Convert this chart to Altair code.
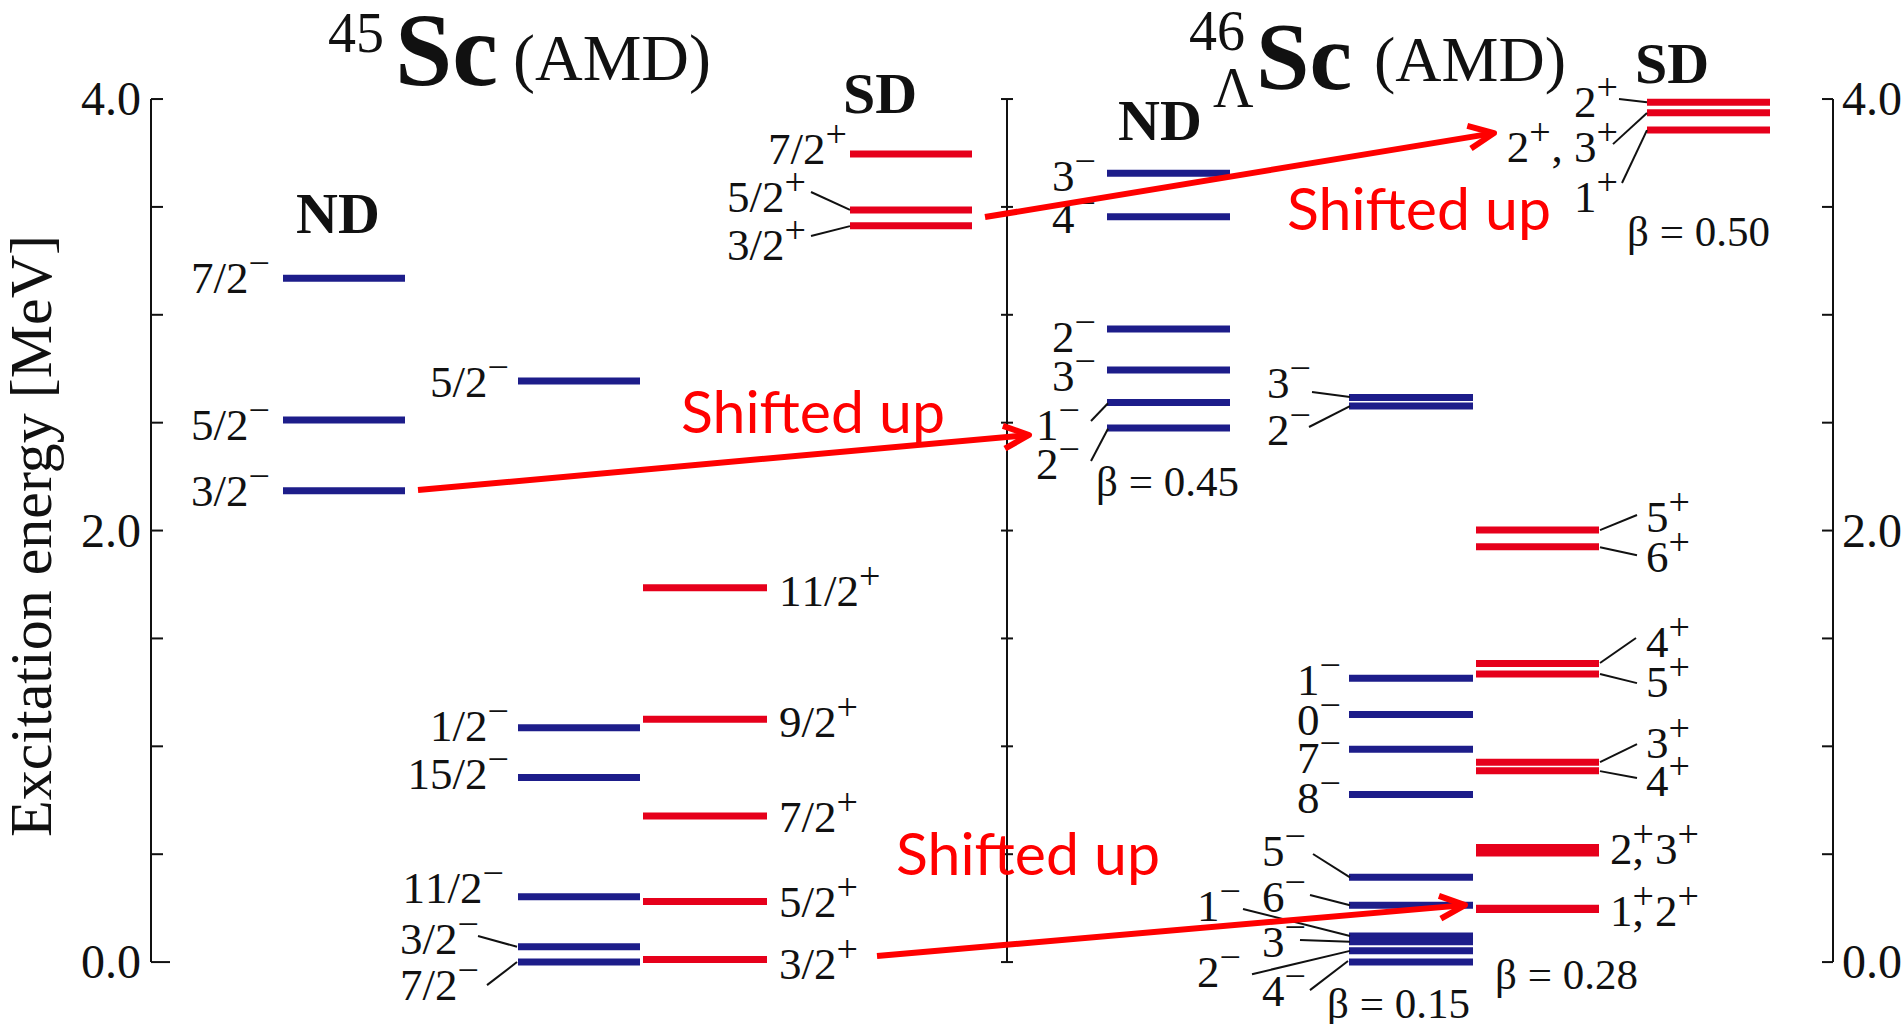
import math
import altair as alt
import pandas as pd

W, H = 1903, 1024
E_MIN, E_MAX = -0.287, 4.459
PX_PER_MEV = H / (E_MAX - E_MIN)

BLUE = "#1d1d8a"
RED_LEVEL = "#e6001b"
RED = "#ff0000"
INK = "#111111"
SERIF = "Liberation Serif"
SANS = "Lato"
LABEL_SIZE = 45
SUP_SIZE = 38

# ---------------- level energies (MeV) per column ----------------
lv_45_nd1 = [3.169, 2.512, 2.185]
lv_45_nd2 = [2.693, 1.086, 0.856, 0.303, 0.071, 0.000]
lv_45_sd_lo = [1.735, 1.126, 0.677, 0.281, 0.012]
lv_45_sd_hi = [3.745, 3.486, 3.413]
lv_46_nd_a = [3.656, 3.454, 2.934, 2.744, 2.594, 2.475]
lv_46_nd_b = [2.617, 2.577, 1.315, 1.148, 0.986, 0.777, 0.393, 0.263, 0.121, 0.094, 0.052, 0.000]
lv_46_sd_lo = [2.002, 1.925, 1.384, 1.335, 0.926, 0.887, 0.531, 0.505, 0.250, 0.244]
lv_46_sd_hi = [3.985, 3.937, 3.856]

# column extents in diagram units
col_levels = [lv_45_nd1, lv_45_nd2, lv_45_sd_lo, lv_45_sd_hi,
              lv_46_nd_a, lv_46_nd_b, lv_46_sd_lo, lv_46_sd_hi]
col_left = [283, 518, 643, 850, 1107, 1349, 1476, 1647]
col_right = [405, 640, 767, 972, 1230, 1473, 1599, 1770]
col_color = [BLUE, BLUE, RED_LEVEL, RED_LEVEL, BLUE, BLUE, RED_LEVEL, RED_LEVEL]

# ---------------- spin-parity labels ----------------
# (anchor x, alignment, labels, label centre energies); ^ = superscript, _ = zero-advance
lab_anchor = [271, 510, 505, 480, 779, 848, 807, 1097, 1081, 1312, 1342, 1307, 1242, 1646, 1610, 1619]
lab_align = ["right", "right", "right", "right", "left", "right", "right", "right", "right",
             "right", "right", "right", "right", "left", "left", "right"]
lab_text = [
    ["7/2^−", "5/2^−", "3/2^−"],
    ["5/2^−", "1/2^−", "15/2^−"],
    ["11/2^−"],
    ["3/2^−", "7/2^−"],
    ["11/2^+", "9/2^+", "7/2^+", "5/2^+", "3/2^+"],
    ["7/2^+"],
    ["5/2^+", "3/2^+"],
    ["3^−", "4^−", "2^−", "3^−"],
    ["1^−", "2^−"],
    ["3^−", "2^−"],
    ["1^−", "0^−", "7^−", "8^−"],
    ["5^−", "6^−", "3^−", "4^−"],
    ["1^−", "2^−"],
    ["5^+", "6^+", "4^+", "5^+", "3^+", "4^+"],
    ["2_,^+3^+", "1_,^+2^+"],
    ["2^+", "2^+, 3^+", "1^+"],
]
lab_E = [
    [3.170, 2.490, 2.183],
    [2.688, 1.094, 0.871],
    [0.343],
    [0.107, -0.107],
    [1.720, 1.112, 0.672, 0.278, -0.009],
    [3.768],
    [3.546, 3.323],
    [3.643, 3.450, 2.897, 2.716],
    [2.489, 2.308],
    [2.684, 2.466],
    [1.307, 1.122, 0.946, 0.760],
    [0.514, 0.301, 0.093, -0.134],
    [0.260, -0.046],
    [2.063, 1.877, 1.483, 1.298, 1.015, 0.839],
    [0.524, 0.236],
    [3.986, 3.777, 3.546],
]

beta_text = ["β = 0.45", "β = 0.50", "β = 0.15", "β = 0.28"]
beta_x = [1096, 1627, 1327, 1495]
beta_E = [2.225, 3.384, -0.195, -0.060]

# leader lines (x1, E1, x2, E2)
lead_x1 = [478, 487, 811, 811, 1091, 1091, 1312, 1309, 1619, 1613, 1622,
           1600, 1600, 1600, 1600, 1600, 1600, 1313, 1310, 1243, 1300, 1252, 1310]
lead_E1 = [0.1205, -0.107, 3.569, 3.365, 2.508, 2.322, 2.642, 2.480, 4.000, 3.791, 3.611,
           2.002, 1.923, 1.386, 1.335, 0.927, 0.885, 0.501, 0.311, 0.246, 0.102, -0.056, -0.130]
lead_x2 = [517, 517, 850, 850, 1108, 1108, 1350, 1350, 1647, 1647, 1647,
           1637, 1637, 1636, 1637, 1637, 1637, 1350, 1350, 1350, 1350, 1350, 1348]
lead_E2 = [0.071, 0.000, 3.486, 3.411, 2.590, 2.472, 2.619, 2.577, 3.985, 3.935, 3.856,
           2.072, 1.886, 1.502, 1.293, 1.010, 0.853, 0.393, 0.263, 0.121, 0.094, 0.052, 0.005]

# "Shifted up" arrows
arr_x1 = [418, 985, 877]
arr_E1 = [2.188, 3.453, 0.028]
arr_x2 = [1029, 1494, 1465]
arr_E2 = [2.443, 3.842, 0.264]
shift_x = [681, 1287, 896]
shift_E = [2.452, 3.393, 0.403]

# axes
axis_x = [151, 1007, 1833]
tick_E = [0.0, 0.5, 1.0, 1.5, 2.0, 2.5, 3.0, 3.5, 4.0]
tick_labels = ["0.0", "2.0", "4.0"]
tick_label_E = [0.0, 2.0, 4.0]

# titles
ttl_reg_text = ["45", "(AMD)", "46", "Λ", "(AMD)"]
ttl_reg_x = [328, 513, 1189, 1213, 1374]
ttl_reg_E = [4.218, 4.088, 4.227, 3.963, 4.083]
ttl_reg_size = [56, 66, 56, 56, 64]
ttl_sc_x = [395, 1256]
ttl_sc_E = [4.065, 4.046]
ttl_sc_size = [103, 96]
band_text = ["ND", "SD", "ND", "SD"]
band_x = [338, 880, 1160, 1672]
band_E = [3.379, 3.935, 3.810, 4.074]
band_size = [58, 58, 58, 58]

# ---------------- build tables ----------------
TNR = {c: 0.5 for c in "0123456789"}
TNR.update({"/": 0.278, ",": 0.25, " ": 0.25, ".": 0.25, "+": 0.564, "−": 0.564})


def layout(label, anchor, align):
    pieces = []
    i = 0
    while i < len(label):
        ch = label[i]
        if ch == "^":
            c = label[i + 1]
            pieces.append((c, "sup", TNR[c] * SUP_SIZE + 1))
            i += 2
        elif ch == "_":
            pieces.append((label[i + 1], "base", 0.0))
            i += 2
        else:
            pieces.append((ch, "base", TNR[ch] * LABEL_SIZE))
            i += 1
    total = sum(p[2] for p in pieces)
    x = anchor - total if align == "right" else anchor
    out = []
    for t, k, adv in pieces:
        out.append((t, k, x))
        x += adv
    return out


base_rows, sup_rows = [], []
for anc, al, texts, es in zip(lab_anchor, lab_align, lab_text, lab_E):
    for t, e in zip(texts, es):
        for piece, kind, x in layout(t, anc, al):
            (sup_rows if kind == "sup" else base_rows).append({"t": piece, "x": x, "E": e})
beta_rows = [{"t": t, "x": x, "E": e} for t, x, e in zip(beta_text, beta_x, beta_E)]

lev_rows = []
for lv, x1, x2, c in zip(col_levels, col_left, col_right, col_color):
    for e in lv:
        lev_rows.append({"x": x1, "x2": x2, "E": e, "c": c})

lead_df = pd.DataFrame({"x": lead_x1, "E": lead_E1, "x2": lead_x2, "E2": lead_E2})

arr_df = pd.DataFrame({"x": arr_x1, "E": arr_E1, "x2": arr_x2, "E2": arr_E2})
ang = []
for x1, e1, x2, e2 in zip(arr_x1, arr_E1, arr_x2, arr_E2):
    a = math.degrees(math.atan2(-(e2 - e1) * PX_PER_MEV, x2 - x1))
    ang.append(a % 360)
head_df = pd.DataFrame({"x": arr_x2, "E": arr_E2, "ang": ang})

axis_rows = [{"x": ax, "E": 0.0, "E2": 4.0} for ax in axis_x]
tick_rows = []
for e in tick_E:
    tick_rows.append({"x": axis_x[0], "x2": axis_x[0] + (19 if e == 0 else 12), "E": e})
    tick_rows.append({"x": axis_x[1] - 6, "x2": axis_x[1] + 6, "E": e})
    tick_rows.append({"x": axis_x[2] - 11, "x2": axis_x[2], "E": e})

xs = alt.Scale(domain=[0, W], nice=False, zero=False)
ys = alt.Scale(domain=[E_MIN, E_MAX], nice=False, zero=False)
X = lambda f="x": alt.X(f"{f}:Q", scale=xs, axis=None)
Y = lambda f="E": alt.Y(f"{f}:Q", scale=ys, axis=None)

levels = alt.Chart(pd.DataFrame(lev_rows)).mark_rule(strokeWidth=7, strokeCap="butt").encode(
    x=X(), x2="x2:Q", y=Y(), color=alt.Color("c:N", scale=None))

leaders = alt.Chart(lead_df).mark_rule(strokeWidth=2, color=INK).encode(
    x=X(), x2="x2:Q", y=Y(), y2="E2:Q")

axes = alt.Chart(pd.DataFrame(axis_rows)).mark_rule(strokeWidth=2, color=INK).encode(
    x=X(), y=Y(), y2="E2:Q")
ticks = alt.Chart(pd.DataFrame(tick_rows)).mark_rule(strokeWidth=2, color=INK).encode(
    x=X(), x2="x2:Q", y=Y())

left_lab = alt.Chart(pd.DataFrame({"t": tick_labels, "E": tick_label_E, "x": [141] * 3})).mark_text(
    font=SERIF, fontSize=48, align="right", baseline="alphabetic", dy=16, color=INK).encode(
    x=X(), y=Y(), text="t:N")
right_lab = alt.Chart(pd.DataFrame({"t": tick_labels, "E": tick_label_E, "x": [1842] * 3})).mark_text(
    font=SERIF, fontSize=48, align="left", baseline="alphabetic", dy=16, color=INK).encode(
    x=X(), y=Y(), text="t:N")

ytitle = alt.Chart(pd.DataFrame({"t": ["Excitation energy [MeV]"], "x": [33], "E": [1.975]})).mark_text(
    font=SERIF, fontSize=60, align="center", baseline="middle", angle=270, color=INK).encode(
    x=X(), y=Y(), text="t:N")

base_txt = alt.Chart(pd.DataFrame(base_rows)).mark_text(
    font=SERIF, fontSize=LABEL_SIZE, align="left", baseline="alphabetic", dy=15, color=INK).encode(
    x=X(), y=Y(), text="t:N")
sup_txt = alt.Chart(pd.DataFrame(sup_rows)).mark_text(
    font=SERIF, fontSize=SUP_SIZE, align="left", baseline="alphabetic", dy=-2, color=INK).encode(
    x=X(), y=Y(), text="t:N")
beta_txt = alt.Chart(pd.DataFrame(beta_rows)).mark_text(
    font=SERIF, fontSize=43, align="left", baseline="alphabetic", dy=14, color=INK).encode(
    x=X(), y=Y(), text="t:N")

arrows = alt.Chart(arr_df).mark_rule(strokeWidth=6, color=RED).encode(
    x=X(), x2="x2:Q", y=Y(), y2="E2:Q")
heads = alt.Chart(head_df).mark_point(
    shape="M-2.1,-0.95L0,0L-2.1,0.95", size=576, filled=False, strokeWidth=6,
    color=RED, opacity=1, strokeJoin="round").encode(
    x=X(), y=Y(), angle=alt.Angle("ang:Q", scale=None))
shifted = alt.Chart(pd.DataFrame({"t": ["Shifted up"] * 3, "x": shift_x, "E": shift_E})).mark_text(
    font=SANS, fontSize=59, align="left", baseline="alphabetic", color=RED).encode(
    x=X(), y=Y(), text="t:N")

ttl_reg = alt.Chart(pd.DataFrame({"t": ttl_reg_text, "x": ttl_reg_x, "E": ttl_reg_E, "s": ttl_reg_size})).mark_text(
    font=SERIF, align="left", baseline="alphabetic", color=INK).encode(
    x=X(), y=Y(), text="t:N", size=alt.Size("s:Q", scale=None))
ttl_sc = alt.Chart(pd.DataFrame({"t": ["Sc", "Sc"], "x": ttl_sc_x, "E": ttl_sc_E, "s": ttl_sc_size})).mark_text(
    font=SERIF, fontWeight="bold", align="left", baseline="alphabetic", color=INK).encode(
    x=X(), y=Y(), text="t:N", size=alt.Size("s:Q", scale=None))
bands = alt.Chart(pd.DataFrame({"t": band_text, "x": band_x, "E": band_E, "s": band_size})).mark_text(
    font=SERIF, fontWeight="bold", align="center", baseline="alphabetic", color=INK).encode(
    x=X(), y=Y(), text="t:N", size=alt.Size("s:Q", scale=None))

chart = alt.layer(
    axes, ticks, left_lab, right_lab, ytitle, levels, leaders, base_txt, sup_txt, beta_txt,
    arrows, heads, shifted, ttl_reg, ttl_sc, bands
).properties(
    width=W, height=H, padding=0, autosize=alt.AutoSizeParams(type="none"),
    background="white"
).configure_view(stroke=None)

chart.save("out.html", embed_options={"renderer": "svg", "actions": False})
